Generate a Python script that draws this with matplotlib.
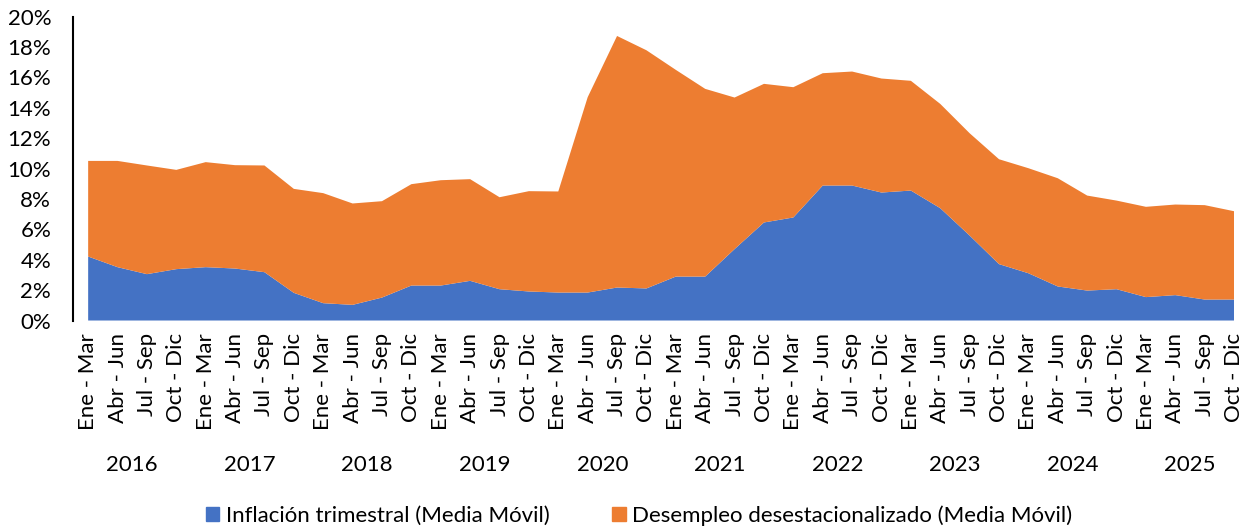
import matplotlib
matplotlib.use("Agg")
import matplotlib.pyplot as plt
from matplotlib.patches import Patch
from matplotlib.ticker import PercentFormatter

plt.rcParams['font.family'] = ['Lato', 'DejaVu Sans']

# quarterly labels, 2016 - 2025
quarters = ["Ene - Mar", "Abr - Jun", "Jul - Sep", "Oct - Dic"]
years = ["2016", "2017", "2018", "2019", "2020", "2021", "2022", "2023", "2024", "2025"]

# moving averages (%)
inflacion = [4.21, 3.51, 3.05, 3.38, 3.51, 3.42, 3.18, 1.82,
			 1.14, 1.03, 1.51, 2.30, 2.30, 2.61, 2.06, 1.91,
			 1.84, 1.84, 2.17, 2.11, 2.89, 2.89, 4.70, 6.45,
			 6.78, 8.88, 8.88, 8.42, 8.55, 7.39, 5.59, 3.71,
			 3.11, 2.24, 1.97, 2.06, 1.54, 1.67, 1.38, 1.38]
desempleo = [6.29, 6.99, 7.15, 6.53, 6.91, 6.80, 7.02, 6.84,
			 7.24, 6.67, 6.34, 6.67, 6.93, 6.69, 6.05, 6.60,
			 6.65, 12.85, 16.55, 15.67, 13.60, 12.35, 9.97, 9.12,
			 8.57, 7.39, 7.50, 7.50, 7.22, 6.86, 6.73, 6.90,
			 6.91, 7.12, 6.25, 5.83, 5.94, 5.96, 6.21, 5.81]

labels_inf = "Inflación trimestral (Media Móvil)"
labels_des = "Desempleo desestacionalizado (Media Móvil)"
azul = "#4472C4"
naranja = "#ED7D31"
fs = 16

fig = plt.figure(figsize=(12.58, 5.31), dpi=100)
ax = fig.add_axes([0.0584, 0.3964, 0.9226, 0.5725])

x = list(range(len(inflacion)))
ax.stackplot(x, inflacion, desempleo, colors=[azul, naranja], linewidth=0)

ax.set_xlim(-0.5, len(x) - 1)
ax.set_ylim(0, 20)
ax.set_yticks(range(0, 21, 2))
ax.yaxis.set_major_formatter(PercentFormatter(100, decimals=0))

ax.set_xticks(x)
ax.set_xticklabels(quarters * len(years), rotation=90, fontsize=fs)
ax.tick_params(axis='x', length=0, pad=9)
ax.tick_params(axis='y', length=0, pad=16, labelsize=fs)

for s in ["top", "right", "bottom"]:
	ax.spines[s].set_visible(False)
ax.spines["left"].set_linewidth(1.5)
ax.spines["left"].set_color("black")

# year under every group of four quarters
for i, y in enumerate(years):
	ax.text(4 * i + 1.5, -0.4737, y, transform=ax.get_xaxis_transform(),
			ha='center', va='center', fontsize=fs)

handles = [Patch(color=azul, label=labels_inf), Patch(color=naranja, label=labels_des)]
fig.legend(handles=handles, loc='center', bbox_to_anchor=(0.508, 0.0292), ncol=2,
		   frameon=False, fontsize=fs, handlelength=0.62, handleheight=0.62,
		   handletextpad=0.3, columnspacing=2.8)

fig.savefig("out.png", dpi=100)
